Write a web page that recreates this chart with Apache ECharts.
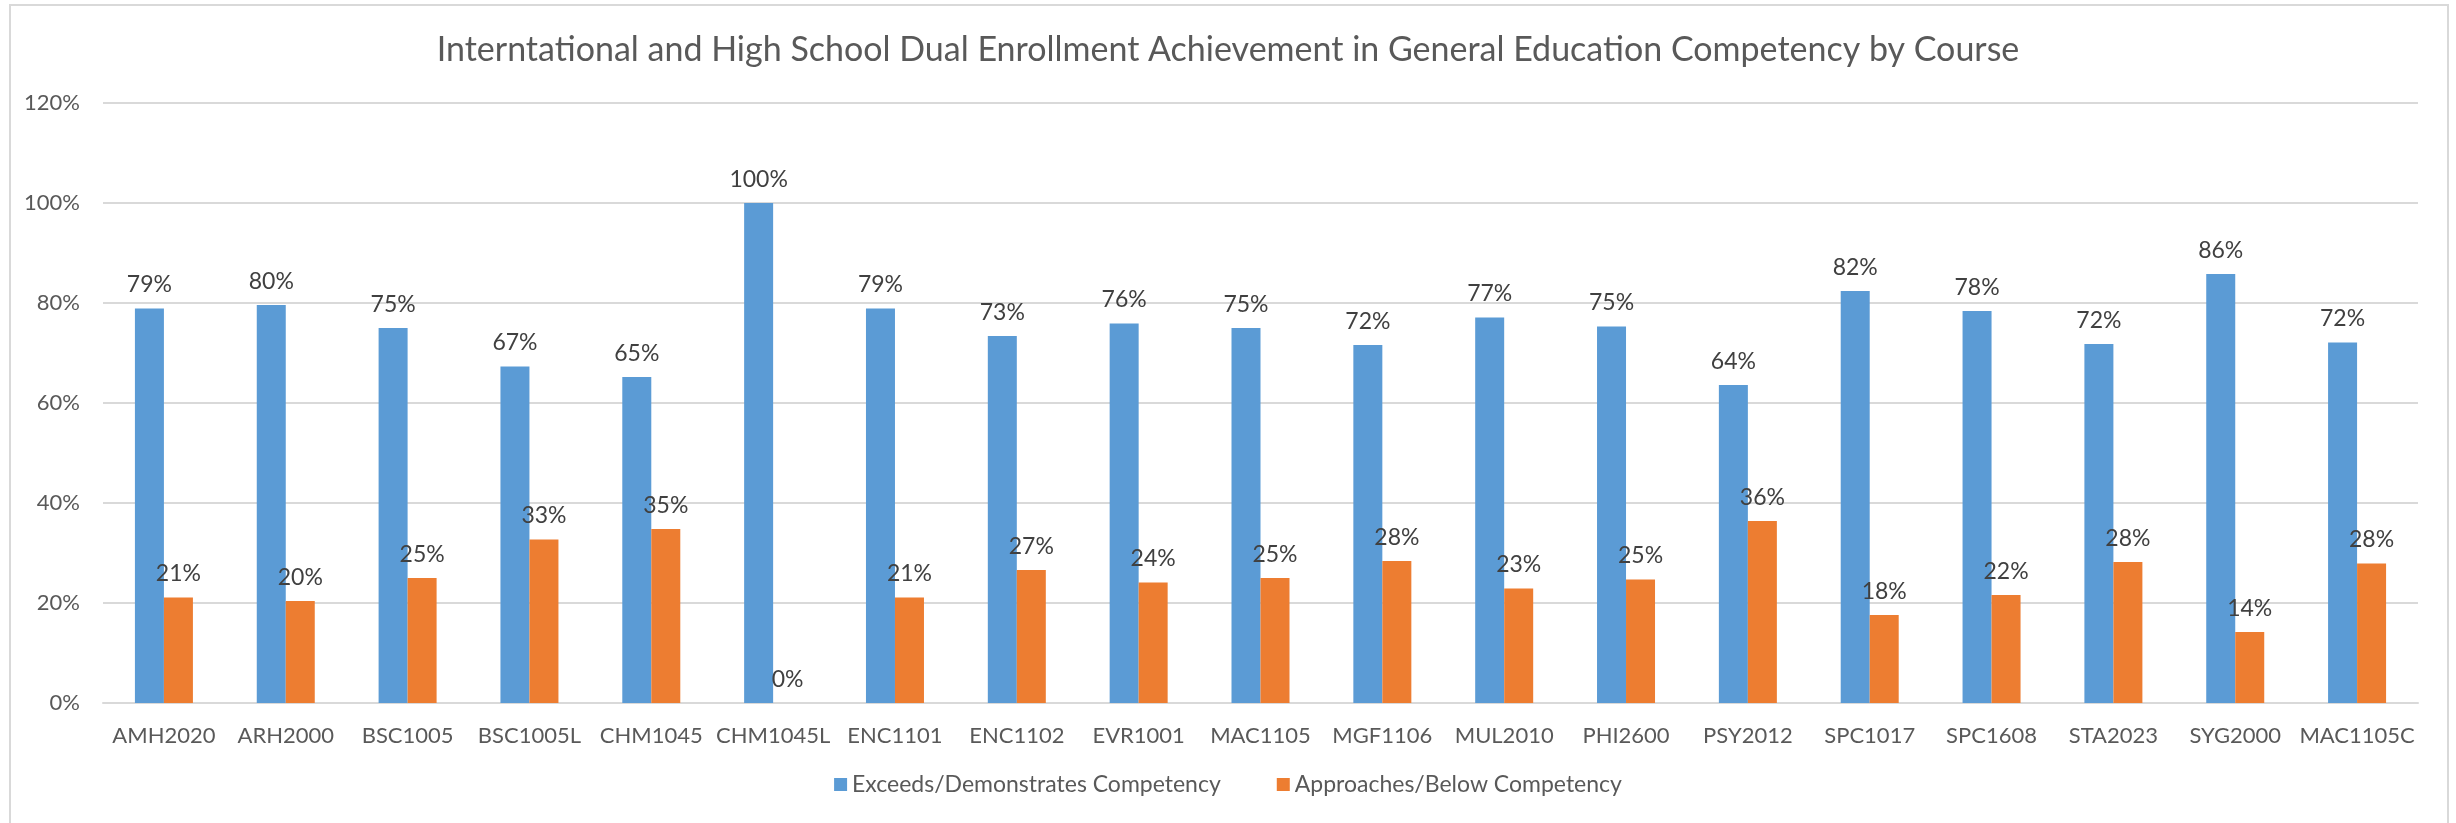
<!DOCTYPE html>
<html>
<head>
<meta charset="utf-8">
<script src="https://cdn.jsdelivr.net/npm/echarts@6/dist/echarts.min.js"></script>
<style>
  html, body { margin: 0; padding: 0; background: #fff; }
  #chart { width: 2456px; height: 823px; }
</style>
</head>
<body>
<div id="chart"></div>
<script>
const courses = ['AMH2020', 'ARH2000', 'BSC1005', 'BSC1005L', 'CHM1045', 'CHM1045L', 'ENC1101', 'ENC1102', 'EVR1001', 'MAC1105',
  'MGF1106', 'MUL2010', 'PHI2600', 'PSY2012', 'SPC1017', 'SPC1608', 'STA2023', 'SYG2000', 'MAC1105C']
const exceeds = [78.9, 79.6, 75.0, 67.3, 65.2, 100, 78.9, 73.4, 75.9, 75.0, 71.6, 77.1, 75.3, 63.6, 82.4, 78.4, 71.8, 85.8, 72.1]
const approaches = [21.1, 20.4, 25.0, 32.7, 34.8, 0, 21.1, 26.6, 24.1, 25.0, 28.4, 22.9, 24.7, 36.4, 17.6, 21.6, 28.2, 14.2, 27.9]
const seriesNames = ['Exceeds/Demonstrates Competency', 'Approaches/Below Competency']
const yTicks = [0, 20, 40, 60, 80, 100, 120]

const textColor = '#595959'
const fontFamily = 'Lato'

const myChart = echarts.init(document.getElementById('chart'))

const barLabel = {
  show: true,
  position: 'top',
  distance: 12,
  color: '#404040',
  fontFamily: fontFamily,
  fontSize: 23,
  formatter: (p) => Math.round(p.value) + '%'
}

const option = {
  backgroundColor: '#fff',
  color: ['#5B9BD5', '#ED7D31'],
  animation: false,
  title: {
    text: 'Interntational and High School Dual Enrollment Achievement in General Education Competency by Course',
    left: 'center',
    top: 28,
    textStyle: {
      color: textColor,
      fontFamily: fontFamily,
      fontWeight: 'normal',
      fontSize: 34
    }
  },
  graphic: [{
    type: 'rect',
    shape: { x: 10, y: 5, width: 2438, height: 840 },
    style: { fill: 'none', stroke: '#D9D9D9', lineWidth: 2 },
    silent: true
  }],
  legend: {
    data: seriesNames,
    bottom: 22,
    left: 'center',
    icon: 'rect',
    itemWidth: 13,
    itemHeight: 13,
    itemGap: 56,
    textStyle: {
      color: textColor,
      fontFamily: fontFamily,
      fontSize: 23
    }
  },
  grid: {
    left: 103,
    right: 38,
    top: 103,
    bottom: 120
  },
  xAxis: {
    type: 'category',
    data: courses,
    axisLine: { lineStyle: { color: '#D9D9D9', width: 2 } },
    axisTick: { show: false },
    axisLabel: {
      color: textColor,
      fontFamily: fontFamily,
      fontSize: 22,
      margin: 22,
      interval: 0
    }
  },
  yAxis: {
    type: 'value',
    min: yTicks[0],
    max: yTicks[yTicks.length - 1],
    interval: 20,
    axisLine: { show: false },
    axisTick: { show: false },
    splitLine: { lineStyle: { color: '#D9D9D9', width: 2 } },
    axisLabel: {
      color: textColor,
      fontFamily: fontFamily,
      fontSize: 22,
      margin: 23,
      formatter: '{value}%'
    }
  },
  series: [
    {
      name: seriesNames[0],
      type: 'bar',
      data: exceeds,
      barWidth: 29,
      barGap: '0%',
      label: barLabel
    },
    {
      name: seriesNames[1],
      type: 'bar',
      data: approaches,
      barWidth: 29,
      label: barLabel
    }
  ]
}

myChart.setOption(option)
</script>
</body>
</html>
